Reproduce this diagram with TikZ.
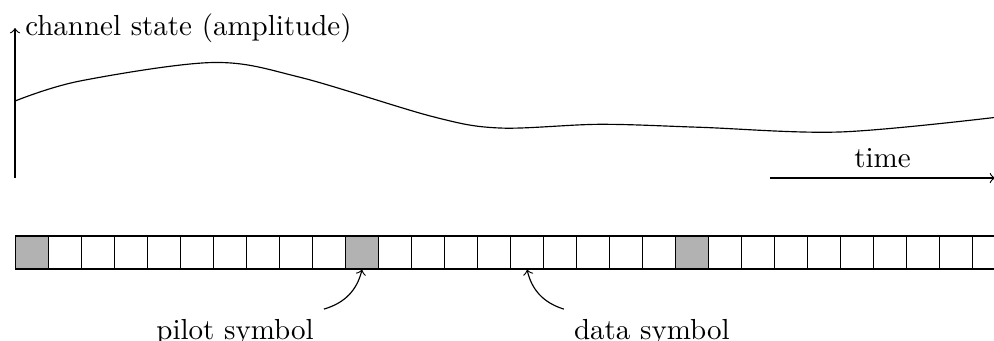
\documentclass[tikz,border=0pt]{standalone}
\begin{document}
\begin{tikzpicture}[
  cell/.style={draw, minimum size=0.4cm, inner sep=0pt, anchor=south west},
  pilotcell/.style={cell, fill=black!30},
  axis/.style={->},
  pointer/.style={->}
]
\useasboundingbox (-0.182,-0.855) rectangle (11.867,3.267);

% channel amplitude over time
\coordinate (ybot) at (0,1.109);
\coordinate (ytop) at (0,2.927);
\draw[axis] (ybot) -- (ytop) node[right] (ylabel) {channel state (amplitude)};

\draw plot[smooth, tension=0.55] coordinates {
  (0,2.042) (0.788,2.285) (2.40,2.509) (3.455,2.33) (5.067,1.852)
  (5.879,1.715) (7.09,1.76) (8.30,1.724) (10.0,1.667) (11.867,1.842)};

\coordinate (t0) at (9.15,1.109);
\coordinate (t1) at (11.88,1.109);
\draw[axis] (t0) -- (t1) node[midway, above] (tlabel) {time};

% symbol frame: a pilot every ten symbols
\foreach \i in {0,...,29}{
  \pgfmathtruncatemacro\r{mod(\i,10)}
  \ifnum\r=0
    \node[pilotcell] (c\i) at (0.4*\i,0) {};
  \else
    \node[cell] (c\i) at (0.4*\i,0) {};
  \fi
}

\node[anchor=base] (pilot) at (2.667,-0.848) {pilot symbol};
\node[anchor=base] (data) at (7.72,-0.848) {data symbol};
\draw[pointer] (pilot.north east) to[bend right] (c10.south);
\draw[pointer] (data.north west) to[bend left] (c15.south);
\end{tikzpicture}
\end{document}
